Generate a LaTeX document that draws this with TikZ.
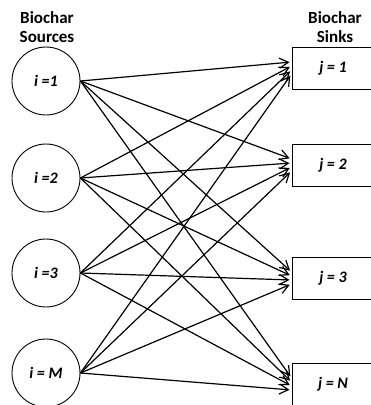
\documentclass[tikz,border=0pt]{standalone}
\usepackage{fontspec}
\setmainfont{Carlito}
\usetikzlibrary{arrows.meta,calc}

\tikzset{
	source/.style={draw,circle,line width=0.9pt,minimum size=68pt,inner sep=0pt,font=\fontsize{16}{19}\selectfont\bfseries\itshape},
	sink/.style={draw,rectangle,line width=0.9pt,minimum width=82pt,minimum height=42pt,inner sep=0pt,font=\fontsize{16}{19}\selectfont\bfseries\itshape},
	heading/.style={align=center,font=\fontsize{17}{19}\selectfont\bfseries},
	flow/.style={-{Straight Barb[length=9pt,width=10pt,line width=1.2pt]},line width=1.2pt,shorten >=2pt}
}

\begin{document}
\begin{tikzpicture}[x=1pt,y=-1pt]
	\useasboundingbox (0,0) rectangle (371,405);
	% headings
	\node[heading] (srchead) at (47,27) {Biochar\\Sources};
	\node[heading] (sinkhead) at (335,27) {Biochar\\Sinks};
	% sources
	\node[source] (s1) at (46,81) {i =1};
	\node[source] (s2) at (46,178) {i =2};
	\node[source] (s3) at (46,273) {i =3};
	\node[source] (s4) at (46,373) {i = M};
	% sinks
	\node[sink] (t1) at (333,68) {j = 1};
	\node[sink] (t2) at (333,165) {j = 2};
	\node[sink] (t3) at (333,278) {j = 3};
	\node[sink] (t4) at (333,384) {j = N};
	% every source to every sink
	\foreach \i in {1,...,4}
	\foreach \j in {1,...,4}
	\draw[flow] (s\i.east) -- ($(t\j.west)+(0,{(\i-2.5)*4})$);
\end{tikzpicture}
\end{document}
